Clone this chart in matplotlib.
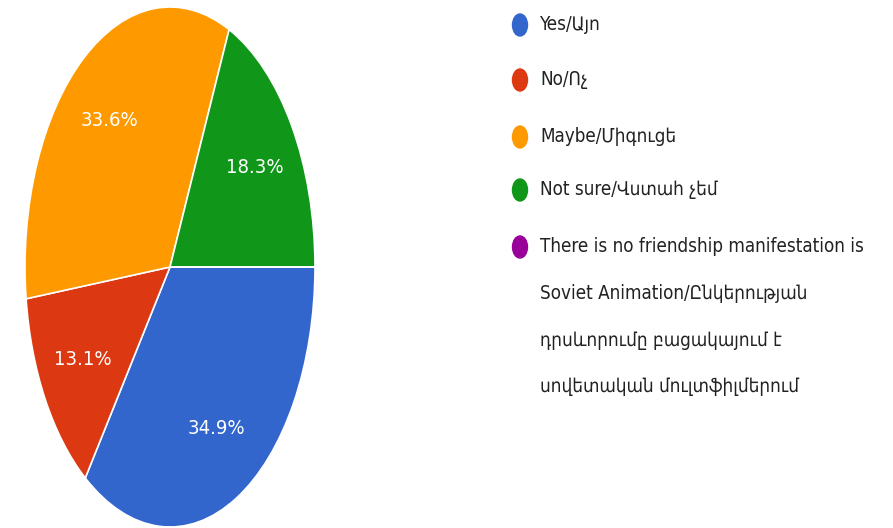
import matplotlib
matplotlib.use("Agg")
from matplotlib import pyplot as plt
from matplotlib.patches import Ellipse

plt.rcParams['font.family'] = ['Liberation Sans Narrow', 'DejaVu Sans']
plt.rcParams['font.stretch'] = 'condensed'

# Data
labels = [
    "Yes/Այո",
    "No/Ոչ",
    "Maybe/Միգուցե",
    "Not sure/Վստահ չեմ",
    "There is no friendship manifestation is\nSoviet Animation/Ընկերության\n"
    "դրսևորումը բացակայում է\nսովետական մուլտֆիլմերում",
]
shares = [34.9, 13.1, 33.6, 18.3, 0.0]
colors = ['#3366cc', '#dc3912', '#ff9900', '#109618', '#990099']

W, H = 893, 528
fig = plt.figure(figsize=(W / 100, H / 100), dpi=100)

# pie is squeezed sideways in the reference, so draw it in a tall axes
ax = fig.add_axes([25 / W, 1 / H, 290 / W, 520 / H])
wedges, texts, autotexts = ax.pie(
    shares, colors=colors, startangle=0, counterclock=False,
    autopct=lambda p: f'{p:.1f}%' if p > 0 else '',
    pctdistance=0.7,
    wedgeprops=dict(edgecolor='white', linewidth=1.2),
    textprops=dict(color='white', fontsize=14.5),
)
ax.set_aspect('auto')
ax.set_xlim(-1.0, 1.0)
ax.set_ylim(-1.0, 1.0)

# --- legend drawn by hand ---
leg_y = [25, 80, 137, 190, 247]
for lab, col, y in zip(labels, colors, leg_y):
    fig.patches.append(Ellipse((520 / W, 1 - y / H), 15 / W, 22 / H,
                               transform=fig.transFigure, color=col))
    fig.text(540 / W, 1 - (y - 10) / H, lab, fontsize=13.5, color='#222222',
             ha='left', va='top', linespacing=2.85)

fig.savefig('out.png', dpi=100, facecolor='white')
